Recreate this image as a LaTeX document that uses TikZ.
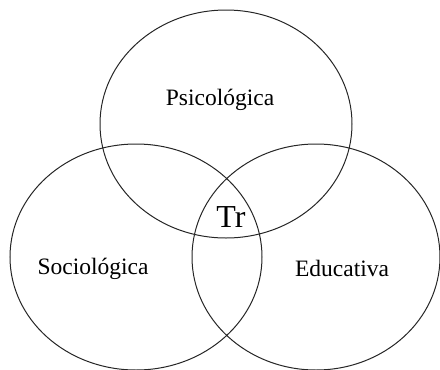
\documentclass[tikz,border=0pt]{standalone}
\usepackage{fontspec}
\setmainfont{Liberation Serif}
\begin{document}
\begin{tikzpicture}[x=1pt,y=-1pt,
  ring/.style={draw=black!85,line width=1pt},
  lbl/.style={font=\fontsize{23.5}{25}\selectfont,inner sep=0pt},
  big/.style={font=\fontsize{32}{34}\selectfont,inner sep=0pt}]
\useasboundingbox (0,0) rectangle (440,370);
\begin{scope}
\clip (0,0) rectangle (440,370);
\draw[ring] (226,124) ellipse [x radius=126, y radius=114];
\draw[ring] (136,257) ellipse [x radius=126, y radius=113];
\draw[ring] (316,257) ellipse [x radius=124, y radius=113];
\end{scope}
\node[lbl] (psi) at (220,100) {Psicológica};
\node[lbl] (soc) at (93,269) {Sociológica};
\node[lbl] (edu) at (342,268) {Educativa};
\node[big] (tr) at (231,217) {Tr};
\end{tikzpicture}
\end{document}
